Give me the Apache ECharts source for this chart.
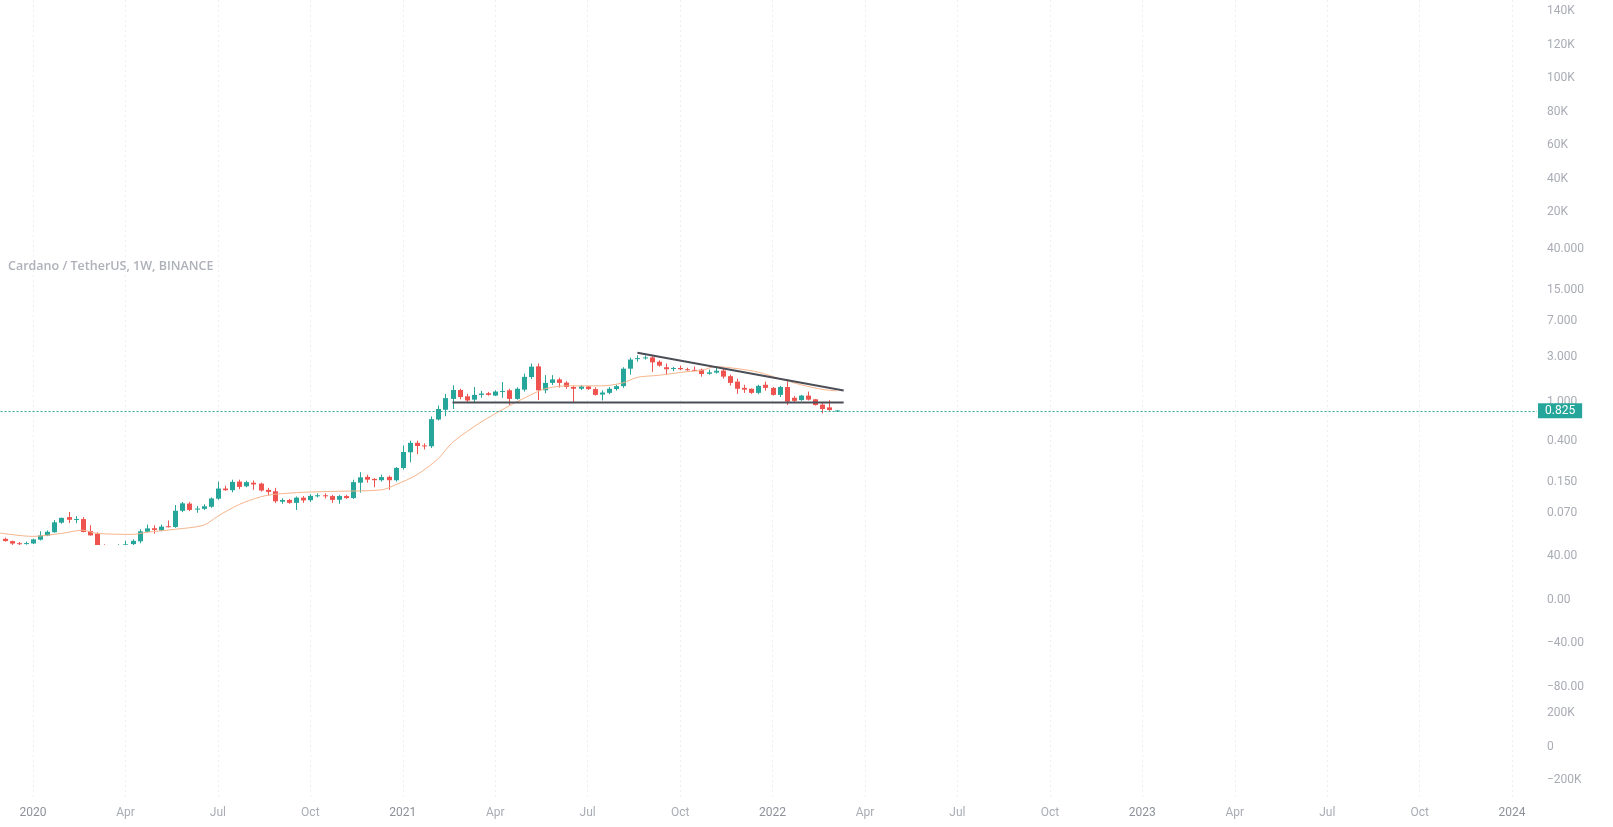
<!DOCTYPE html>
<html>
<head>
<meta charset="utf-8">
<title>Cardano / TetherUS, 1W, BINANCE</title>
<script src="https://cdn.jsdelivr.net/npm/echarts@6/dist/echarts.min.js"></script>
<style>
  html, body { margin: 0; padding: 0; background: #fff; }
  #chart { width: 1613px; height: 827px; }
</style>
</head>
<body>
<div id="chart"></div>
<script>
// weekly bars (Monday open)
const weeks = [
  '2019-12-09','2019-12-16','2019-12-23','2019-12-30',
  '2020-01-06','2020-01-13','2020-01-20','2020-01-27','2020-02-03','2020-02-10','2020-02-17','2020-02-24',
  '2020-03-02','2020-03-09','2020-03-16','2020-03-23','2020-03-30','2020-04-06','2020-04-13','2020-04-20',
  '2020-04-27','2020-05-04','2020-05-11','2020-05-18','2020-05-25','2020-06-01','2020-06-08','2020-06-15',
  '2020-06-22','2020-06-29','2020-07-06','2020-07-13','2020-07-20','2020-07-27','2020-08-03','2020-08-10',
  '2020-08-17','2020-08-24','2020-08-31','2020-09-07','2020-09-14','2020-09-21','2020-09-28','2020-10-05',
  '2020-10-12','2020-10-19','2020-10-26','2020-11-02','2020-11-09','2020-11-16','2020-11-23','2020-11-30',
  '2020-12-07','2020-12-14','2020-12-21','2020-12-28',
  '2021-01-04','2021-01-11','2021-01-18','2021-01-25','2021-02-01','2021-02-08','2021-02-15','2021-02-22',
  '2021-03-01','2021-03-08','2021-03-15','2021-03-22','2021-03-29','2021-04-05','2021-04-12','2021-04-19',
  '2021-04-26','2021-05-03','2021-05-10','2021-05-17','2021-05-24','2021-05-31','2021-06-07','2021-06-14',
  '2021-06-21','2021-06-28','2021-07-05','2021-07-12','2021-07-19','2021-07-26','2021-08-02','2021-08-09',
  '2021-08-16','2021-08-23','2021-08-30','2021-09-06','2021-09-13','2021-09-20','2021-09-27','2021-10-04',
  '2021-10-11','2021-10-18','2021-10-25','2021-11-01','2021-11-08','2021-11-15','2021-11-22','2021-11-29',
  '2021-12-06','2021-12-13','2021-12-20','2021-12-27',
  '2022-01-03','2022-01-10','2022-01-17','2022-01-24','2022-01-31','2022-02-07','2022-02-14','2022-02-21',
  '2022-02-28','2022-03-07'
];
const open = [
  0.0380,0.0360,0.0342,0.0338,
  0.0340,0.0372,0.0410,0.0445,0.0560,0.0640,0.0605,0.0610,
  0.0458,0.0430,0.0290,0.0287,0.0300,0.0318,0.0335,0.0358,
  0.0450,0.0490,0.0465,0.0514,0.0505,0.0745,0.0885,0.0770,
  0.0780,0.0820,0.0995,0.1270,0.1220,0.1500,0.1340,0.1460,
  0.1430,0.1230,0.1190,0.0925,0.0966,0.0900,0.1020,0.0960,
  0.1062,0.1080,0.1060,0.0970,0.1060,0.1010,0.1460,0.1680,
  0.1600,0.1550,0.1680,0.1550,
  0.2080,0.3030,0.3800,0.3570,0.3500,0.6650,0.8400,1.0900,
  1.3500,1.1600,1.0700,1.2000,1.2500,1.1800,1.2900,1.3400,
  1.0900,1.3600,1.8400,2.3800,1.3400,1.6000,1.7400,1.6100,
  1.4500,1.3900,1.4700,1.3800,1.2100,1.2600,1.3800,1.4800,
  2.2500,2.8300,2.8800,2.9500,2.6600,2.3300,2.2400,2.2900,
  2.2200,2.1900,2.2000,1.9900,2.0500,2.1500,1.8800,1.6500,
  1.4200,1.3900,1.2600,1.5300,
  1.4200,1.2000,1.4500,1.1200,1.0600,1.1800,1.0800,0.9500,
  0.8900,0.8220
];
const high = [
  0.0392,0.0364,0.0352,0.0356,
  0.0382,0.0455,0.0465,0.0595,0.0632,0.0723,0.0656,0.0640,
  0.0527,0.0445,0.0333,0.0323,0.0334,0.0362,0.0375,0.0478,
  0.0535,0.0527,0.0535,0.0590,0.0856,0.0920,0.0920,0.0836,
  0.0870,0.1025,0.1500,0.1360,0.1570,0.1570,0.1530,0.1540,
  0.1460,0.1290,0.1290,0.1005,0.0990,0.1050,0.1060,0.1110,
  0.1130,0.1130,0.1090,0.1090,0.1090,0.1570,0.1880,0.1770,
  0.1630,0.1770,0.1730,0.2130,
  0.3570,0.4000,0.4000,0.3750,0.7150,0.9300,1.2300,1.5100,
  1.3900,1.2300,1.4500,1.3200,1.2900,1.3400,1.6300,1.3900,
  1.4400,2.0000,2.5500,2.5500,1.9300,1.9300,1.8100,1.6700,
  1.5000,1.5200,1.4900,1.4400,1.3400,1.4500,1.5300,2.3300,
  2.9300,3.1000,3.1000,3.1000,2.7500,2.5500,2.3500,2.4200,
  2.3000,2.3700,2.2500,2.2000,2.4000,2.2500,1.9500,1.7700,
  1.5300,1.4000,1.5300,1.6500,
  1.4500,1.4900,1.7000,1.1700,1.2000,1.3000,1.0900,0.9900,
  1.0600,0.8350
];
const low = [
  0.0355,0.0328,0.0328,0.0331,
  0.0335,0.0365,0.0405,0.0440,0.0545,0.0555,0.0553,0.0444,
  0.0410,0.0185,0.0236,0.0259,0.0272,0.0305,0.0326,0.0341,
  0.0445,0.0430,0.0455,0.0500,0.0495,0.0720,0.0740,0.0710,
  0.0760,0.0800,0.0970,0.1200,0.1160,0.1250,0.1310,0.1230,
  0.1180,0.1070,0.0900,0.0880,0.0880,0.0758,0.0900,0.0920,
  0.1025,0.1000,0.0900,0.0880,0.0990,0.0990,0.1150,0.1460,
  0.1310,0.1500,0.1230,0.1500,
  0.2000,0.2380,0.2900,0.3240,0.3360,0.6500,0.7200,0.8550,
  1.0800,0.9900,1.0100,1.1200,1.1800,1.1700,1.1200,0.9400,
  1.0700,1.3000,1.7600,1.0600,1.2500,1.5200,1.4300,1.3900,
  1.0000,1.3500,1.3500,1.1800,1.0500,1.2200,1.3300,1.4200,
  1.9500,2.6600,2.8000,2.0900,2.3600,1.9500,2.1200,2.1700,
  2.1400,2.1200,1.8600,1.9500,2.0000,1.7700,1.5000,1.2300,
  1.2600,1.2300,1.2200,1.3300,
  1.1800,1.1400,0.9400,1.0000,1.0400,1.0500,0.9300,0.7700,
  0.8200,0.8150
];
const close = [
  0.0360,0.0339,0.0338,0.0343,
  0.0375,0.0413,0.0450,0.0565,0.0628,0.0600,0.0612,0.0448,
  0.0413,0.0290,0.0287,0.0300,0.0318,0.0333,0.0362,0.0455,
  0.0488,0.0470,0.0510,0.0505,0.0745,0.0890,0.0760,0.0785,
  0.0830,0.1000,0.1270,0.1220,0.1490,0.1320,0.1480,0.1400,
  0.1210,0.1170,0.0935,0.0965,0.0900,0.1020,0.0955,0.1065,
  0.1080,0.1055,0.0966,0.1060,0.1010,0.1480,0.1660,0.1570,
  0.1550,0.1670,0.1550,0.2080,
  0.3050,0.3800,0.3520,0.3500,0.6710,0.8550,1.1100,1.3500,
  1.1400,1.0500,1.2000,1.2400,1.2000,1.3000,1.3200,1.0900,
  1.3900,1.8500,2.3600,1.3400,1.6000,1.7400,1.6000,1.4500,
  1.3900,1.4700,1.3800,1.2000,1.2700,1.3900,1.4800,2.2500,
  2.8000,2.9000,2.9500,2.6200,2.4200,2.2200,2.2900,2.2200,
  2.1900,2.1700,1.9800,2.0600,2.1400,1.8600,1.6000,1.3900,
  1.3600,1.2600,1.4900,1.4200,
  1.2000,1.4500,1.0200,1.0400,1.1800,1.0700,0.9400,0.8550,
  0.8340,0.8250
];

// orange moving average, read at a few weeks
const maWeeks = [
  '2019-12-02','2020-01-06','2020-02-03','2020-02-24','2020-03-09','2020-04-13','2020-04-27','2020-05-25',
  '2020-06-22','2020-07-06','2020-07-27','2020-08-17','2020-08-31','2020-09-28','2020-11-02','2020-12-14',
  '2020-12-28','2021-01-18','2021-02-08','2021-02-22','2021-03-22','2021-04-19','2021-05-10','2021-05-24',
  '2021-06-14','2021-07-19','2021-08-09','2021-08-23','2021-09-13','2021-10-11','2021-10-25','2021-11-08',
  '2021-11-29','2021-12-20','2022-01-10','2022-01-31','2022-02-21','2022-03-07'
];
const maValues = [
  0.0440,0.0403,0.0433,0.0467,0.0433,0.0423,0.0444,0.0478,
  0.0527,0.0656,0.0866,0.1040,0.1105,0.1160,0.1190,0.1230,
  0.1390,0.1770,0.2610,0.3840,0.6240,0.9250,1.2000,1.3890,
  1.4900,1.4900,1.6050,1.8300,1.9200,2.0950,2.1600,2.3660,
  2.2540,2.0700,1.7690,1.5300,1.3700,1.3200
];

// drawn trend lines
const supportWeeks = ['2021-02-22', '2022-03-14'];
const supportPrice = [1.0, 1.0];
const resistWeeks = ['2021-08-23', '2022-03-14'];
const resistPrice = [3.30, 1.33];

// axis tick labels
const xTickLabels = ['Oct','2020','Apr','Jul','Oct','2021','Apr','Jul','Oct','2022','Apr','Jul','Oct','2023','Apr','Jul','Oct','2024'];
const topTicks = [20000, 40000, 60000, 80000, 100000, 120000, 140000];
const priceTicks = [0.07, 0.15, 0.4, 1, 3, 7, 15, 40];
const oscTicks = [40, 0, -40, -80];
const lowTicks = [200000, 0, -200000];

const UP = '#26a69a';
const DOWN = '#ef5350';
const TXT = '#a9acb4';
const FONT = 'Roboto, "Open Sans", sans-serif';

const BASE = Date.parse('2020-01-06');
function weekIndex(d) {
  return Math.round((Date.parse(d) - BASE) / (7 * 86400000));
}
const X_MIN = -13;
const X_MAX = 211.5;
const PRICE_MIN = 0.03277;
const PRICE_MAX = 43.72;

const candles = weeks.map((w, i) => [weekIndex(w), open[i], close[i], low[i], high[i]]);
const maData = maWeeks.map((w, i) => [weekIndex(w), maValues[i]]);
const supportData = supportWeeks.map((w, i) => [weekIndex(w), supportPrice[i]]);
const resistData = resistWeeks.map((w, i) => [weekIndex(w), resistPrice[i]]);
const lastClose = close[close.length - 1];

const minus = v => (v < 0 ? '\u2212' : '');

// candle body + wick, clipped to the price pane by the series
function renderCandle(params, api) {
  const x = api.value(0);
  const o = api.value(1), c = api.value(2), l = api.value(3), h = api.value(4);
  const pO = api.coord([x, o]);
  const pC = api.coord([x, c]);
  const pL = api.coord([x, l]);
  const pH = api.coord([x, h]);
  const color = c >= o ? UP : DOWN;
  const cx = Math.round(pO[0]) + 0.5;
  const top = Math.min(pO[1], pC[1]);
  const bot = Math.max(pO[1], pC[1]);
  return {
    type: 'group',
    children: [
      { type: 'line', shape: { x1: cx, y1: pH[1], x2: cx, y2: pL[1] }, style: { stroke: color, lineWidth: 1 } },
      { type: 'rect', shape: { x: cx - 2.5, y: top, width: 5, height: Math.max(bot - top, 1) }, style: { fill: color } }
    ]
  };
}

function gridAt(top, height) {
  return { left: -59.44, right: 76, top: top, height: height, containLabel: false, outerBoundsMode: 'none' };
}
function hiddenX(i) {
  return { type: 'value', gridIndex: i, min: X_MIN, max: X_MAX, show: false };
}
function labelAxis(grid, min, max, values, fmt) {
  return {
    type: 'value', gridIndex: grid, position: 'right', min: min, max: max,
    axisLine: { show: false }, axisTick: { show: false }, splitLine: { show: false },
    axisLabel: {
      customValues: values, formatter: fmt, color: TXT, fontSize: 12, fontFamily: FONT,
      margin: 10, padding: [3, 0, 0, 0]
    }
  };
}

const chart = echarts.init(document.getElementById('chart'));
chart.setOption({
  animation: false,
  backgroundColor: '#ffffff',
  title: {
    text: 'Cardano / TetherUS, 1W, BINANCE',
    left: 8, top: 260, padding: 0,
    textStyle: { color: '#aeb1b9', fontSize: 12.5, fontWeight: 600, fontFamily: '"Open Sans", sans-serif' }
  },
  grid: [
    gridAt(0, 245.5),
    gridAt(245, 300),
    gridAt(545, 152),
    gridAt(697, 100),
    gridAt(0, 797)
  ],
  xAxis: [
    hiddenX(0), hiddenX(1), hiddenX(2), hiddenX(3),
    {
      type: 'value', gridIndex: 4, min: X_MIN, max: X_MAX, interval: 13,
      axisLine: { show: false }, axisTick: { show: false },
      splitLine: { show: true, showMaxLine: false, lineStyle: { color: '#eceef2', width: 1, type: [2, 3] } },
      axisLabel: {
        margin: 10, color: TXT, fontSize: 12, fontFamily: FONT, showMaxLabel: false,
        formatter: function (v) {
          const i = (v - X_MIN) / 13;
          if (!Number.isInteger(i) || i <= 0 || !xTickLabels[i]) return '';
          const t = xTickLabels[i];
          return /^\d{4}$/.test(t) ? '{yr|' + t + '}' : t;
        },
        rich: { yr: { color: '#8e919a', fontSize: 12, fontFamily: FONT } }
      }
    }
  ],
  yAxis: [
    labelAxis(0, 0, 146570, topTicks, v => (v / 1000) + 'K'),
    { type: 'log', logBase: 10, gridIndex: 1, min: PRICE_MIN, max: PRICE_MAX, show: false },
    labelAxis(1, Math.log10(PRICE_MIN), Math.log10(PRICE_MAX), priceTicks.map(Math.log10),
      v => Math.pow(10, v).toFixed(3)),
    labelAxis(2, -89.4, 50, oscTicks, v => minus(v) + Math.abs(v).toFixed(2)),
    labelAxis(3, -298500, 295500, lowTicks, v => (v === 0 ? '0' : minus(v) + Math.abs(v) / 1000 + 'K')),
    { type: 'value', gridIndex: 4, show: false, min: 0, max: 1 }
  ],
  series: [
    {
      type: 'custom', xAxisIndex: 1, yAxisIndex: 1, data: candles,
      encode: { x: 0, y: [1, 2, 3, 4] },
      renderItem: renderCandle, clip: true
    },
    {
      type: 'line', xAxisIndex: 1, yAxisIndex: 1, data: maData,
      smooth: 0.3, symbol: 'none', clip: true,
      lineStyle: { color: '#f6b48a', width: 1 }
    },
    {
      type: 'line', xAxisIndex: 1, yAxisIndex: 1, data: supportData,
      symbol: 'none', clip: false, z: 3,
      lineStyle: { color: '#4b4e57', width: 2 },
      markLine: {
        silent: true, symbol: ['none', 'none'], animation: false,
        lineStyle: { color: UP, type: [2, 2], width: 1 },
        label: {
          position: 'end', distance: 1, formatter: lastClose.toFixed(3),
          color: '#ffffff', backgroundColor: UP, padding: [2, 7, 1, 7],
          fontSize: 12, fontFamily: FONT
        },
        data: [{ yAxis: lastClose }]
      }
    },
    {
      type: 'line', xAxisIndex: 1, yAxisIndex: 1, data: resistData,
      symbol: 'none', clip: false, z: 3,
      lineStyle: { color: '#4b4e57', width: 2 }
    }
  ]
});
</script>
</body>
</html>
